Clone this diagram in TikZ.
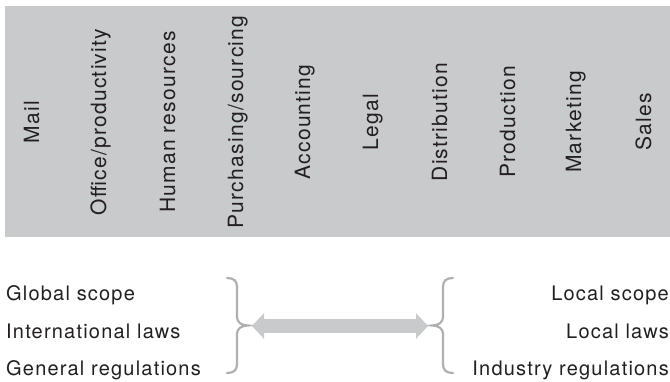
\documentclass[tikz,border=0pt]{standalone}
\usepackage{fontspec}
\newfontfamily\labfont{TeX Gyre Heros}[LetterSpace=6]
\usetikzlibrary{arrows.meta}
\definecolor{panelgrey}{HTML}{C9CACC}
\definecolor{bracegrey}{HTML}{AFB0B2}
\definecolor{ink}{HTML}{231F20}
\begin{document}
\begin{tikzpicture}[x=1pt,y=-1pt,
  toplabel/.style={rotate=90, anchor=base, inner sep=0pt, text=ink, font=\labfont\fontsize{21}{25}\selectfont},
  sidelabel/.style={inner sep=0pt, text=ink, font=\labfont\fontsize{20}{24}\selectfont},
  bracestyle/.style={draw=bracegrey, line width=2.2pt, line cap=round},
  dblarrow/.style={draw=panelgrey, line width=14pt, {Triangle[width=25pt,length=12pt]}-{Triangle[width=25pt,length=12pt]}}]
\useasboundingbox (0,0) rectangle (670,382);
% grey panel
\node (panel) [fill=panelgrey, anchor=north west, minimum width=665pt, minimum height=231pt, inner sep=0pt] at (5,6) {};
% function labels
\node (mail) [toplabel] at (39,122) {Mail};
\node (office) [toplabel] at (106,122) {Office/productivity};
\node (hr) [toplabel] at (175,122) {Human resources};
\node (purch) [toplabel] at (243,122) {Purchasing/sourcing};
\node (acc) [toplabel] at (310,122) {Accounting};
\node (legal) [toplabel] at (378,122) {Legal};
\node (dist) [toplabel] at (447,122) {Distribution};
\node (prod) [toplabel] at (515,122) {Production};
\node (mkt) [toplabel] at (581,122) {Marketing};
\node (sales) [toplabel] at (651,122) {Sales};
% left column
\node (gs) [sidelabel, anchor=base west] at (6,301) {Global scope};
\node (il) [sidelabel, anchor=base west] at (6,339) {International laws};
\node (gr) [sidelabel, anchor=base west] at (6,376) {General regulations};
% right column
\node (ls) [sidelabel, anchor=base east] at (669,301) {Local scope};
\node (ll) [sidelabel, anchor=base east] at (669,339) {Local laws};
\node (ir) [sidelabel, anchor=base east] at (669,376) {Industry regulations};
% braces
\coordinate (lbtop) at (227,278);
\coordinate (lbtip) at (248,325.5);
\coordinate (lbbot) at (227,373);
\coordinate (rbtop) at (453,278);
\coordinate (rbtip) at (432,325.5);
\coordinate (rbbot) at (453,373);
\draw[bracestyle] (lbtop) .. controls (234,278) and (237,281) .. (237,287)
  -- (237,317) .. controls (237,322) and (241,325.5) .. (lbtip)
  .. controls (241,325.5) and (237,329) .. (237,334)
  -- (237,364) .. controls (237,370) and (234,373) .. (lbbot);
\draw[bracestyle] (rbtop) .. controls (446,278) and (443,281) .. (443,287)
  -- (443,317) .. controls (443,322) and (439,325.5) .. (rbtip)
  .. controls (439,325.5) and (443,329) .. (443,334)
  -- (443,364) .. controls (443,370) and (446,373) .. (rbbot);
% arrow
\coordinate (ltip) at (252,326);
\coordinate (rtip) at (428,326);
\draw[dblarrow] (ltip) -- (rtip);
\end{tikzpicture}
\end{document}
